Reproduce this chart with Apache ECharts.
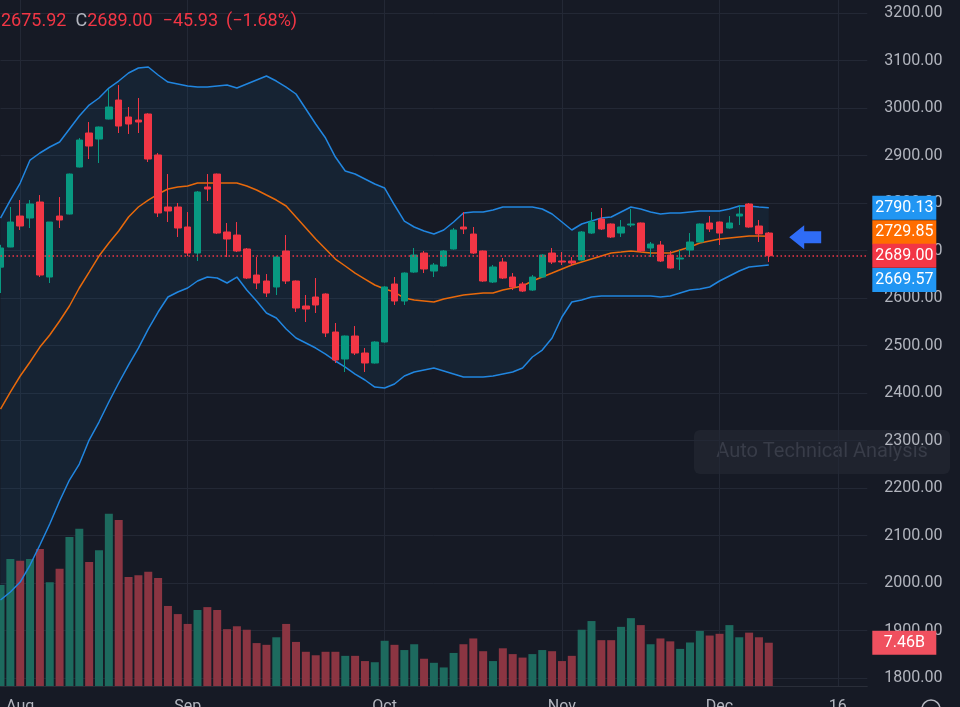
<!DOCTYPE html>
<html>
<head>
<meta charset="utf-8">
<script src="https://cdn.jsdelivr.net/npm/echarts@6.0.0/dist/echarts.min.js"></script>
<style>
  html, body { margin: 0; padding: 0; background: #161a25; }
  #main { width: 960px; height: 707px; }
</style>
</head>
<body>
<div id="main"></div>
<script>
// 日线数据
const open = [2665, 2707.4, 2772.6, 2768.4, 2802.1, 2644.2, 2772.6, 2776.8, 2875.8, 2947.4,
  2934.7, 2976.8, 3016.8, 2981.1, 2974.7, 2987.4, 2901.1, 2791.6, 2791.6, 2749.5,
  2694.7, 2833.7, 2861, 2739, 2732.6, 2703.2, 2648.4, 2635.8, 2623.2, 2699,
  2635.8, 2583.2, 2602.1, 2608.4, 2528.4, 2471.6, 2520, 2484.2, 2463.2, 2507.4,
  2629.5, 2593.7, 2654.7, 2694.7, 2656.8, 2667.4, 2703.2, 2749.5, 2734.7, 2699,
  2633.7, 2675.8, 2644.2, 2629.5, 2616.8, 2644.2, 2694.7, 2677.9, 2677.9, 2680,
  2736.8, 2766.3, 2755.8, 2736.8, 2753.7, 2757.9, 2705.3, 2711.6, 2690.5, 2682.1,
  2701, 2717.9, 2757.9, 2760, 2747.4, 2772.6, 2797.9, 2751.6, 2736.8];
const close = [2705.3, 2760, 2751.6, 2797.9, 2648.4, 2760, 2764.2, 2861, 2932.6, 2920,
  2960, 3002.1, 2962.1, 2966.3, 2970.5, 2892.6, 2779, 2783.2, 2747.4, 2694.7,
  2823.2, 2829.5, 2736.8, 2724.2, 2699, 2642.1, 2631.6, 2610.5, 2686.3, 2635.8,
  2579, 2576.8, 2585.3, 2526.3, 2469.5, 2520, 2484.2, 2463.2, 2507.4, 2623.2,
  2593.7, 2652.6, 2690.5, 2661.1, 2669.5, 2699, 2743.2, 2745.3, 2694.7, 2635.8,
  2665.3, 2642.1, 2623.2, 2614.7, 2644.2, 2690.5, 2675.8, 2675.8, 2673.7, 2739,
  2760, 2745.3, 2728.4, 2749.5, 2755.8, 2699, 2713.7, 2677.9, 2663.2, 2684.2,
  2717.9, 2755.8, 2745.3, 2736.8, 2757.9, 2776.8, 2749.5, 2734.93, 2689.00];
const high = [2712, 2791.6, 2806.3, 2806.3, 2816.8, 2760, 2812.6, 2862, 2936.8, 2970.5,
  2961, 3040, 3048.4, 3002.1, 3021.1, 2989, 2905.3, 2861, 2800, 2781,
  2825.3, 2861, 2862, 2757.9, 2760, 2705.3, 2686.3, 2650.5, 2688, 2732.6,
  2637, 2606.3, 2642.1, 2610, 2547.4, 2521, 2541, 2494.7, 2509, 2625,
  2644.2, 2654, 2705.3, 2699, 2673.7, 2701, 2747.4, 2781, 2749.5, 2700,
  2669.5, 2684.2, 2652.6, 2633.7, 2648.4, 2692, 2705.3, 2696.8, 2686.3, 2741,
  2781, 2789.5, 2757, 2764.2, 2787.4, 2759, 2717.9, 2720, 2699, 2701,
  2736.8, 2757, 2772.6, 2761, 2772.6, 2795.8, 2800, 2764.2, 2739];
const low = [2610.5, 2707, 2743.2, 2747.4, 2644.2, 2631.6, 2747.4, 2776, 2875, 2892.6,
  2884.2, 2976, 2947.4, 2945.3, 2947.4, 2886.3, 2770.5, 2760, 2728.4, 2688.4,
  2677.9, 2804.2, 2734.7, 2686.3, 2696.8, 2640, 2618.9, 2602.1, 2606.3, 2629.5,
  2570.5, 2549.5, 2568.4, 2517.9, 2463.2, 2444.2, 2480, 2444.2, 2462, 2506,
  2585.3, 2585.3, 2653, 2652.6, 2644.2, 2666, 2702, 2734.7, 2692.6, 2634,
  2631.6, 2640, 2616.8, 2612.6, 2615, 2643, 2671.6, 2669.5, 2667.4, 2679,
  2735, 2743.2, 2726.3, 2728.4, 2749.5, 2696.8, 2686.3, 2675.8, 2662, 2659,
  2686.3, 2717, 2739, 2711.6, 2746, 2753.7, 2748, 2717.9, 2675.92];

// 成交量（单位：B）
const volume = [17.4, 21.9, 21.6, 21.9, 23.6, 17.9, 20.2, 25.7, 27.1, 21.4,
  23.4, 29.7, 28.6, 18.8, 19.1, 19.7, 18.6, 13.8, 12.4, 10.7,
  13.1, 13.6, 13.1, 9.8, 10.3, 9.7, 7.4, 7.1, 8.4, 10.7,
  7.6, 5.9, 5.3, 5.9, 5.9, 5.2, 5.2, 4.3, 4.1, 7.8,
  7.1, 6.2, 7.2, 4.7, 4.0, 3.2, 5.7, 7.2, 8.2, 6.0,
  4.3, 6.5, 5.5, 4.9, 5.5, 6.2, 6.0, 4.3, 5.2, 9.7,
  11.2, 7.9, 7.9, 10.2, 11.7, 10.5, 7.2, 8.2, 7.7, 6.4,
  7.5, 9.5, 8.7, 9.0, 10.5, 8.4, 9.2, 8.4, 7.46];

// 布林带（上轨 / 中轨 / 下轨）
const bbUpper = [2768.4, 2806.3, 2842.1, 2890.5, 2905.3, 2917.9, 2928.4, 2955.8, 2983.2, 3006.3,
  3021.1, 3042.1, 3056.8, 3073.7, 3084.2, 3086.3, 3069.5, 3054.7, 3050.5, 3046.3,
  3044.2, 3044.2, 3046.3, 3048.4, 3042.1, 3050.5, 3059, 3067.4, 3056.8, 3044.2,
  3029.5, 2997.9, 2966.3, 2936.8, 2896.8, 2867.4, 2861, 2850.5, 2840, 2831.6,
  2795.8, 2762.1, 2749.5, 2741, 2734.7, 2743.2, 2760, 2779, 2781.1, 2781.1,
  2785.3, 2791.6, 2791.6, 2791.6, 2791.6, 2787.4, 2776.8, 2760, 2743.2, 2755.8,
  2762.1, 2768.4, 2770.5, 2781.1, 2791.6, 2787.4, 2781.1, 2776.8, 2779, 2779,
  2781.1, 2783.2, 2783.2, 2783.2, 2787.4, 2793.7, 2793.7, 2791.6, 2790.13];
const bbBasis = [2366.3, 2402.1, 2435.8, 2465.3, 2496.8, 2522.1, 2551.6, 2583.2, 2621.1, 2654.7,
  2688.4, 2715.8, 2741.1, 2770.5, 2791.6, 2806.3, 2818.9, 2829.5, 2833.7, 2835.8,
  2842.1, 2842.1, 2842.1, 2842.1, 2842.1, 2835.8, 2827.4, 2816.8, 2806.3, 2793.7,
  2770.5, 2747.4, 2724.2, 2703.2, 2682.1, 2667.4, 2652.6, 2640, 2627.4, 2618.9,
  2612.6, 2600, 2595.8, 2593.7, 2591.6, 2597.9, 2602.1, 2606.3, 2608.4, 2610.5,
  2610.5, 2616.8, 2621.1, 2625.3, 2635.8, 2644.2, 2652.6, 2661.1, 2669.5, 2675.8,
  2682.1, 2688.4, 2694.7, 2696.8, 2699, 2696.8, 2694.7, 2694.7, 2694.7, 2701.1,
  2707.4, 2715.8, 2720, 2724.2, 2726.3, 2728.4, 2730.5, 2730.5, 2729.85];
const bbLower = [1964.2, 1981.1, 2002.1, 2037.9, 2080, 2124.2, 2172.6, 2216.8, 2250.5, 2301,
  2338.9, 2381.1, 2421.1, 2458.9, 2494.7, 2534.7, 2570.5, 2602.1, 2612.6, 2621.1,
  2635.8, 2644.2, 2642.1, 2631.6, 2644.2, 2616.8, 2593.7, 2568.4, 2557.9, 2534.7,
  2515.8, 2505.3, 2494.7, 2482.1, 2467.4, 2454.7, 2440, 2427.4, 2412.6, 2410.5,
  2418.9, 2435.8, 2444.2, 2448.4, 2452.6, 2446.3, 2440, 2433.7, 2433.7, 2433.7,
  2435.8, 2440, 2444.2, 2452.6, 2475.8, 2490.5, 2515.8, 2560, 2591.6, 2595.8,
  2602.1, 2604.2, 2604.2, 2604.2, 2604.2, 2604.2, 2604.2, 2602.1, 2604.2, 2610.5,
  2616.8, 2618.9, 2623.2, 2635.8, 2646.3, 2656.8, 2665.3, 2667.4, 2669.57];

// 横轴：89个K线位（后面10个为空白），只在月份处标注
const slotCount = 89;
const tickSlots = [2, 19, 39, 57, 73, 85];
const tickLabels = ['Aug', 'Sep', 'Oct', 'Nov', 'Dec', '16'];
const priceTicks = [1800, 1900, 2000, 2100, 2200, 2300, 2400, 2500, 2600, 2700, 2800, 2900, 3000, 3100, 3200];

const upColor = '#089981';
const downColor = '#f23645';
const bandBlue = '#2186e0';
const basisOrange = '#e8690b';
const gridColor = '#232835';
const textColor = '#b2b5be';
const font = 'Roboto, "Noto Sans", sans-serif';

const slots = [];
for (let i = 0; i < slotCount; i++) slots.push(String(i));

const candleData = open.map((o, i) => [o, close[i], low[i], high[i]]);
const volData = volume.map((v, i) => ({
  value: v,
  itemStyle: { color: close[i] >= open[i] ? '#1d6a5e' : '#8b3542' }
}));
const bandWidth = bbUpper.map((u, i) => +(u - bbLower[i]).toFixed(2));

const isTick = (i) => tickSlots.indexOf(i) >= 0;

// 右侧价格标签（markLine 末端文字），宽度统一
function endLabel(bg, offsetY, text) {
  return {
    show: true,
    position: 'end',
    distance: 5,
    formatter: '{t|' + text + '}',
    backgroundColor: bg,
    padding: [3, 3, 3, 3],
    offset: [0, offsetY],
    rich: {
      t: {
        color: '#ffffff',
        fontFamily: font,
        fontSize: 16,
        lineHeight: 18,
        width: 58,
        align: 'center'
      }
    }
  };
}
// 只要标签不要线
const hiddenLine = { width: 0, color: 'rgba(0,0,0,0)' };

const myChart = echarts.init(document.getElementById('main'));

const option = {
  backgroundColor: '#161a25',
  animation: false,
  title: {
    left: 1,
    top: 12,
    padding: 0,
    text: '{a|2675.92}{c|C}{a|2689.00}{d|−45.93}{e|(−1.68%)}',
    textStyle: {
      fontWeight: 'normal',
      rich: {
        a: { color: downColor, fontFamily: font, fontSize: 18, fontWeight: 'normal' },
        c: { color: textColor, fontFamily: font, fontSize: 18, fontWeight: 'normal', padding: [0, 0, 0, 9] },
        d: { color: downColor, fontFamily: font, fontSize: 18, fontWeight: 'normal', padding: [0, 0, 0, 10] },
        e: { color: downColor, fontFamily: font, fontSize: 18, fontWeight: 'normal', padding: [0, 0, 0, 8] }
      }
    }
  },
  grid: [
    { left: 0.5, right: 92.7, top: 0, bottom: 21, outerBoundsMode: 'none' },    // 价格区
    { left: 0.5, right: 92.7, top: 454, bottom: 21, outerBoundsMode: 'none' }   // 成交量区
  ],
  xAxis: [
    {
      type: 'category',
      gridIndex: 0,
      data: slots,
      boundaryGap: false,
      axisLine: { show: true, lineStyle: { color: '#2a2e39' } },
      axisTick: { show: false },
      axisLabel: {
        interval: (i) => isTick(i),
        formatter: (v, i) => tickLabels[tickSlots.indexOf(i)] || '',
        color: textColor,
        fontFamily: font,
        fontSize: 16,
        margin: 13
      },
      splitLine: { show: true, interval: (i) => isTick(i), lineStyle: { color: gridColor, width: 1 } }
    },
    {
      type: 'category',
      gridIndex: 1,
      data: slots,
      boundaryGap: false,
      show: false
    }
  ],
  yAxis: [
    {
      type: 'value',
      gridIndex: 0,
      position: 'right',
      min: 1783.2,
      max: 3227.4,
      axisLine: { show: false },
      axisTick: { show: false, customValues: priceTicks },
      axisLabel: {
        customValues: priceTicks,
        formatter: (v) => v.toFixed(2),
        color: textColor,
        fontFamily: font,
        fontSize: 16,
        margin: 17
      },
      splitLine: { show: true, lineStyle: { color: gridColor, width: 1 } }
    },
    {
      type: 'value',
      gridIndex: 1,
      min: 0,
      max: 40,
      show: false
    }
  ],
  series: [
    {
      // 布林带填充：下轨作底
      name: 'bandBase',
      type: 'line',
      data: bbLower,
      stack: 'band',
      symbol: 'none',
      silent: true,
      lineStyle: { opacity: 0 },
      z: 1
    },
    {
      name: 'bandFill',
      type: 'line',
      data: bandWidth,
      stack: 'band',
      symbol: 'none',
      silent: true,
      lineStyle: { opacity: 0 },
      areaStyle: { color: 'rgba(33,150,243,0.07)', opacity: 1 },
      z: 1
    },
    {
      name: 'Upper',
      type: 'line',
      data: bbUpper,
      symbol: 'none',
      lineStyle: { color: bandBlue, width: 1.5 },
      z: 3,
      markLine: {
        silent: true,
        symbol: ['none', 'none'],
        lineStyle: hiddenLine,
        data: [{ yAxis: bbUpper[bbUpper.length - 1], label: endLabel('#2196f3', 0, '2790.13') }]
      }
    },
    {
      name: 'Basis',
      type: 'line',
      data: bbBasis,
      symbol: 'none',
      lineStyle: { color: basisOrange, width: 1.5 },
      z: 3,
      markLine: {
        silent: true,
        symbol: ['none', 'none'],
        lineStyle: hiddenLine,
        data: [{ yAxis: bbBasis[bbBasis.length - 1], label: endLabel('#ff6d00', -4, '2729.85') }]
      }
    },
    {
      name: 'Lower',
      type: 'line',
      data: bbLower,
      symbol: 'none',
      lineStyle: { color: bandBlue, width: 1.5 },
      z: 3,
      markLine: {
        silent: true,
        symbol: ['none', 'none'],
        lineStyle: hiddenLine,
        data: [{ yAxis: bbLower[bbLower.length - 1], label: endLabel('#2196f3', 15, '2669.57') }]
      }
    },
    {
      name: 'Volume',
      type: 'bar',
      xAxisIndex: 1,
      yAxisIndex: 1,
      data: volData,
      barWidth: 8,
      z: 2,
      markLine: {
        silent: true,
        symbol: ['none', 'none'],
        lineStyle: hiddenLine,
        data: [{ yAxis: volume[volume.length - 1], label: endLabel('#f0505f', 0, '7.46B') }]
      }
    },
    {
      name: 'Price',
      type: 'candlestick',
      data: candleData,
      barWidth: 7,
      z: 4,
      itemStyle: {
        color: upColor,
        color0: downColor,
        borderColor: upColor,
        borderColor0: downColor,
        borderWidth: 1
      },
      markLine: {
        silent: true,
        symbol: ['none', 'none'],
        data: [{
          yAxis: close[close.length - 1],
          lineStyle: { color: downColor, type: [1.5, 2.5], width: 1.5 },
          label: endLabel(downColor, 0, '2689.00')
        }]
      },
      markPoint: {
        silent: true,
        data: [{
          coord: [82, 2728],
          symbol: 'path://M0,12 L15,0 L15,6 L32,6 L32,18 L15,18 L15,24 Z',
          symbolSize: [32, 24],
          symbolOffset: [-3, 0],
          itemStyle: { color: '#2f6cf6' },
          label: { show: false }
        }]
      }
    }
  ],
  graphic: [
    {
      type: 'group',
      left: 694,
      top: 430,
      children: [
        {
          type: 'rect',
          shape: { x: 0, y: 0, width: 256, height: 44, r: 6 },
          style: { fill: 'rgba(42,46,57,0.45)' }
        },
        {
          type: 'text',
          x: 128,
          y: 22,
          style: {
            text: 'Auto Technical Analysis',
            fill: '#383c48',
            font: '20px Roboto, sans-serif',
            align: 'center',
            verticalAlign: 'middle'
          }
        }
      ]
    },
    {
      // 右下角设置按钮（被裁掉一半）
      type: 'circle',
      shape: { cx: 931, cy: 709, r: 9 },
      style: { fill: 'none', stroke: '#b2b5be', lineWidth: 1.5 }
    }
  ]
};

myChart.setOption(option);
</script>
</body>
</html>
